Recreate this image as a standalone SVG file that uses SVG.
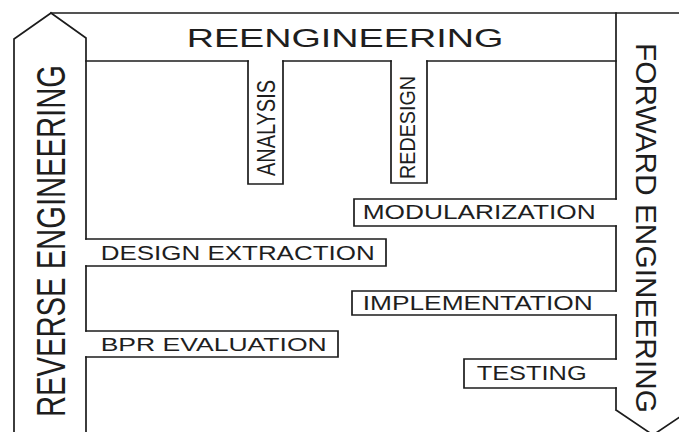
<svg xmlns="http://www.w3.org/2000/svg" width="679" height="432" viewBox="0 0 679 432">
<style>
.ln{fill:none;stroke:#1c1c1c;stroke-width:1.7;stroke-linejoin:miter;stroke-linecap:square}
.t{font-family:"Liberation Sans",Arial,sans-serif;fill:#1e1e1e}
</style>
<rect width="679" height="432" fill="#ffffff"/>
<g id="reverse-engineering">
<path class="ln" d="M14,432 L14,39 L51,13 M51,13 L86,38 L86,239 M86,266 L86,331 M86,357 L86,432"/>
<text class="t" font-size="29.2" transform="translate(65,417) scale(1.4,1) rotate(-90)">REVERSE ENGINEERING</text>
</g>
<g id="reengineering">
<path class="ln" d="M51,13 L616,13 M86,61 L248,61 M283,61 L391,61 M427,61 L616,61"/>
<text class="t" x="186.7" y="46.7" font-size="25.6" textLength="316.6" lengthAdjust="spacingAndGlyphs">REENGINEERING</text>
</g>
<g id="analysis">
<path class="ln" d="M248,61 L248,184 L283,184 L283,61"/>
<text class="t" font-size="25" textLength="96" lengthAdjust="spacingAndGlyphs" transform="translate(275,176) rotate(-90)">ANALYSIS</text>
</g>
<g id="redesign">
<path class="ln" d="M391,61 L391,183 L427,183 L427,61"/>
<text class="t" font-size="22.5" textLength="103" lengthAdjust="spacingAndGlyphs" transform="translate(414.5,179) rotate(-90)">REDESIGN</text>
</g>
<g id="forward-engineering">
<path class="ln" d="M616,13 L690,13 L690,410 L653,435 L616,410 M616,13 L616,199 M616,226 L616,291 M616,315 L616,359 M616,388 L616,410"/>
<text class="t" font-size="29" textLength="370" lengthAdjust="spacingAndGlyphs" transform="translate(636,43) rotate(90)">FORWARD ENGINEERING</text>
</g>
<g id="design-extraction">
<path class="ln" d="M86,239 L386,239 L386,266 L86,266"/>
<text class="t" x="100.7" y="260" font-size="20" textLength="274" lengthAdjust="spacingAndGlyphs">DESIGN EXTRACTION</text>
</g>
<g id="bpr-evaluation">
<path class="ln" d="M86,331 L338,331 L338,357 L86,357"/>
<text class="t" x="100.7" y="351" font-size="19" textLength="226" lengthAdjust="spacingAndGlyphs">BPR EVALUATION</text>
</g>
<g id="modularization">
<path class="ln" d="M616,199 L354,199 L354,226 L616,226"/>
<text class="t" x="362.7" y="219.3" font-size="20" textLength="233" lengthAdjust="spacingAndGlyphs">MODULARIZATION</text>
</g>
<g id="implementation">
<path class="ln" d="M616,291 L352,291 L352,315 L616,315"/>
<text class="t" x="362.7" y="310" font-size="20" textLength="230" lengthAdjust="spacingAndGlyphs">IMPLEMENTATION</text>
</g>
<g id="testing">
<path class="ln" d="M616,359 L464,359 L464,388 L616,388"/>
<text class="t" x="476.7" y="380" font-size="20" textLength="110" lengthAdjust="spacingAndGlyphs">TESTING</text>
</g>
</svg>
